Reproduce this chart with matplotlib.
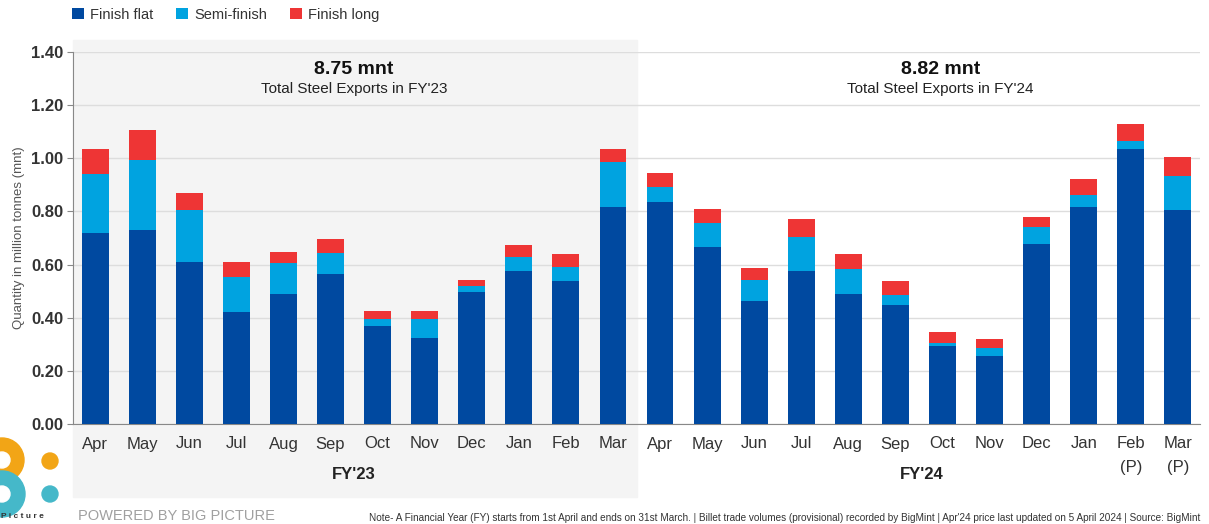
import matplotlib.pyplot as plt
import numpy as np
from matplotlib.patches import Rectangle, Circle
from matplotlib.transforms import blended_transform_factory

plt.rcParams['font.family'] = ['Liberation Sans', 'DejaVu Sans']

# Dados (mnt)
months = ['Apr', 'May', 'Jun', 'Jul', 'Aug', 'Sep', 'Oct', 'Nov', 'Dec', 'Jan', 'Feb', 'Mar',
          'Apr', 'May', 'Jun', 'Jul', 'Aug', 'Sep', 'Oct', 'Nov', 'Dec', 'Jan', 'Feb\n(P)', 'Mar\n(P)']
finish_flat = [0.720, 0.730, 0.610, 0.420, 0.490, 0.565, 0.367, 0.325, 0.495, 0.577, 0.540, 0.818,
               0.837, 0.667, 0.463, 0.576, 0.488, 0.447, 0.295, 0.256, 0.677, 0.815, 1.034, 0.805]
semi_finish = [0.222, 0.264, 0.195, 0.132, 0.116, 0.080, 0.029, 0.069, 0.023, 0.050, 0.052, 0.167,
               0.056, 0.088, 0.078, 0.128, 0.094, 0.039, 0.009, 0.029, 0.063, 0.047, 0.031, 0.130]
finish_long = [0.092, 0.114, 0.065, 0.059, 0.043, 0.051, 0.030, 0.033, 0.025, 0.046, 0.046, 0.049,
               0.050, 0.053, 0.047, 0.066, 0.057, 0.051, 0.043, 0.034, 0.040, 0.059, 0.064, 0.071]
fy_labels = ["FY'23", "FY'24"]
fy_totals = ["8.75 mnt", "8.82 mnt"]

c_flat = '#0049A0'
c_semi = '#00A3E0'
c_long = '#EE3535'

fig = plt.figure(figsize=(12.09, 5.24), dpi=100)
ax = fig.add_axes([73/1209, 1 - 424/524, (1200 - 73)/1209, 372/524])

x = np.arange(len(months))
flat = np.array(finish_flat)
semi = np.array(semi_finish)
longp = np.array(finish_long)
w = 0.57
ax.bar(x, flat, w, color=c_flat, label='Finish flat', zorder=3)
ax.bar(x, semi, w, bottom=flat, color=c_semi, label='Semi-finish', zorder=3)
ax.bar(x, longp, w, bottom=flat + semi, color=c_long, label='Finish long', zorder=3)

ax.set_xlim(-0.47, 23.47)
ax.set_ylim(0, 1.40)
ax.set_yticks(np.arange(0, 1.41, 0.2))
ax.set_yticklabels([f'{v:.2f}' for v in np.arange(0, 1.41, 0.2)], fontweight='bold',
                   fontsize=12, color='#333333')
ax.set_xticks(x)
ax.set_xticklabels(months, fontsize=12, color='#333333', linespacing=1.7)
ax.tick_params(axis='x', length=0, pad=9)
ax.tick_params(axis='y', length=4, color='#888888', pad=3)
ax.set_ylabel('Quantity in million tonnes (mnt)', fontsize=9.5, color='#555555', labelpad=4)

ax.set_axisbelow(True)
ax.grid(axis='y', color='#DDDDDD', linewidth=1)
for s in ['top', 'right']:
    ax.spines[s].set_visible(False)
ax.spines['left'].set_color('#888888')
ax.spines['bottom'].set_color('#888888')

# fundo cinza FY'23
trans = blended_transform_factory(ax.transData, ax.transAxes)
ax.add_patch(Rectangle((-0.47, -0.196), 11.97, 1.228, transform=trans, color='#F4F4F4',
                       zorder=0, clip_on=False))

# textos dos anos
for cx, bx, lab, tot in zip([5.5, 17.95], [5.5, 17.55], fy_labels, fy_totals):
    ax.text(cx, 0.952, tot, transform=trans, ha='center', va='center', fontsize=14,
            fontweight='bold', color='#111111')
    ax.text(cx, 0.90, f'Total Steel Exports in {lab}', transform=trans, ha='center',
            va='center', fontsize=11, color='#222222')
    ax.text(bx, -0.137, lab, transform=ax.get_xaxis_transform(), ha='center', va='center',
            fontsize=12, fontweight='bold', color='#222222')

fig.legend(loc='upper left', bbox_to_anchor=(0.049, 1.01), ncol=3, frameon=False,
           fontsize=10.5, handlelength=0.8, handleheight=0.8, handletextpad=0.4,
           columnspacing=1.6, labelcolor='#333333')

# logo
lax = fig.add_axes([0, 0, 80/1209, 100/524])
lax.set_xlim(0, 80)
lax.set_ylim(0, 100)
lax.axis('off')
lax.add_patch(Circle((2, 64), 22, color='#F2A516'))
lax.add_patch(Circle((2, 30), 23, color='#45B8C9'))
lax.add_patch(Circle((2, 64), 8, color='white'))
lax.add_patch(Circle((2, 30), 8, color='white'))
lax.add_patch(Circle((50, 63), 8, color='#F2A516'))
lax.add_patch(Circle((50, 30), 8, color='#45B8C9'))
fig.text(1/1209, 4/524, 'P i c t u r e', fontsize=6, fontweight='bold', color='#333333',
         va='bottom')

fig.text(78/1209, 1 - 516/524, 'POWERED BY BIG PICTURE', fontsize=10.5, color='#A0A0A0',
         va='center')
fig.text(1200/1209, 1 - 518/524,
         "Note- A Financial Year (FY) starts from 1st April and ends on 31st March. | Billet trade volumes "
         "(provisional) recorded by BigMint | Apr'24 price last updated on 5 April 2024 | Source: BigMint",
         fontsize=7.2, color='#333333', ha='right', va='center')

fig.savefig('out.png', dpi=100)
